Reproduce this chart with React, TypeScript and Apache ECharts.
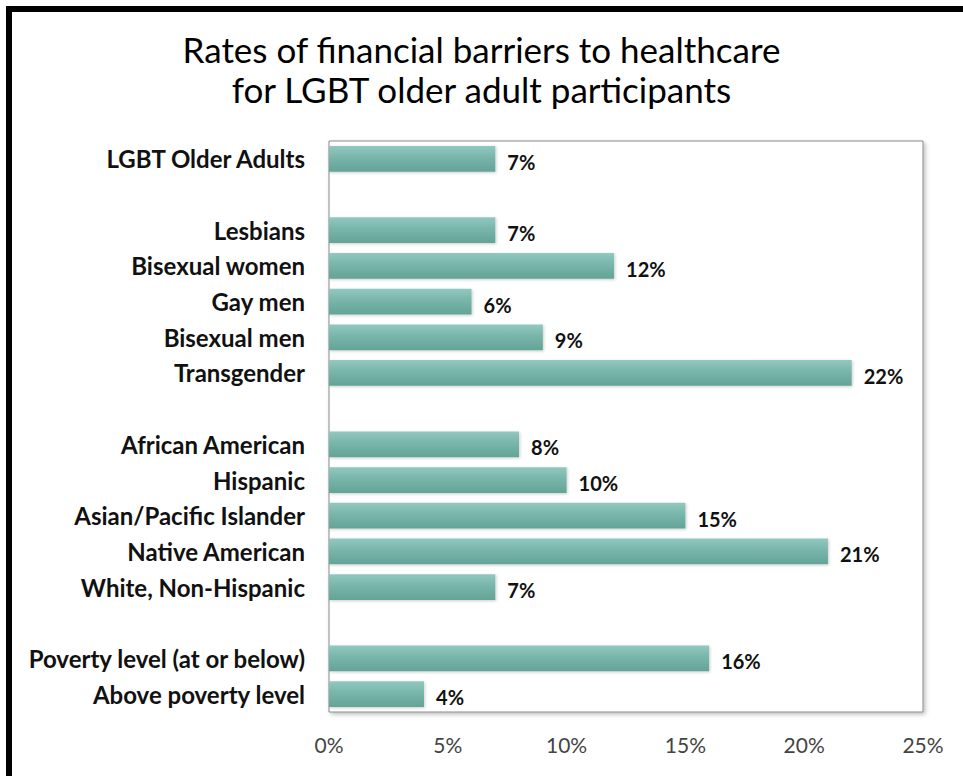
import React, { useEffect, useRef } from "react";
import * as echarts from "echarts";

const titleLines = ["Rates of financial barriers to healthcare", "for LGBT older adult participants"];

const categories = [
  "LGBT Older Adults",
  " ",
  "Lesbians",
  "Bisexual women",
  "Gay men",
  "Bisexual men",
  "Transgender",
  "  ",
  "African American",
  "Hispanic",
  "Asian/Pacific Islander",
  "Native American",
  "White, Non-Hispanic",
  "   ",
  "Poverty level (at or below)",
  "Above poverty level",
];

const values: (number | null)[] = [7, null, 7, 12, 6, 9, 22, null, 8, 10, 15, 21, 7, null, 16, 4];

const xTicks = [0, 5, 10, 15, 20, 25];

const FONT = "Lato, 'Open Sans', sans-serif";

export default function App() {
  const ref = useRef<HTMLDivElement>(null);

  useEffect(() => {
    document.body.style.margin = "0";
    if (!ref.current) return;
    const chart = echarts.init(ref.current, null, { renderer: "svg" });
    chart.setOption({
      animation: false,
      backgroundColor: "#ffffff",
      title: {
        text: titleLines.join("\n"),
        left: "center",
        top: 24,
        textStyle: {
          fontFamily: FONT,
          fontSize: 35,
          fontWeight: "normal",
          color: "#000",
          lineHeight: 40,
        },
      },
      graphic: [
        { type: "rect", shape: { x: 6, y: 6, width: 6, height: 770 }, style: { fill: "#000" } },
        { type: "rect", shape: { x: 6, y: 6, width: 957, height: 6 }, style: { fill: "#000" } },
      ],
      grid: {
        left: 329,
        right: 40,
        top: 141,
        bottom: 64,
        show: true,
        backgroundColor: "#ffffff",
        borderColor: "#8a8a8a",
        borderWidth: 1,
        shadowColor: "rgba(0,0,0,0.25)",
        shadowBlur: 4,
        shadowOffsetX: 2,
        shadowOffsetY: 2,
      },
      xAxis: {
        type: "value",
        min: xTicks[0],
        max: xTicks[xTicks.length - 1],
        interval: 5,
        axisLine: { show: false },
        axisTick: { show: false },
        splitLine: { show: false },
        axisLabel: {
          formatter: "{value}%",
          fontFamily: FONT,
          fontSize: 21,
          color: "#444",
          margin: 22,
        },
      },
      yAxis: {
        type: "category",
        inverse: true,
        data: categories,
        axisLine: { show: false },
        axisTick: { show: false },
        axisLabel: {
          fontFamily: FONT,
          fontSize: 24,
          fontWeight: "bold",
          color: "#111",
          margin: 24,
        },
      },
      series: [
        {
          type: "bar",
          data: values,
          barCategoryGap: "28%",
          itemStyle: {
            color: new echarts.graphic.LinearGradient(0, 0, 0, 1, [
              { offset: 0, color: "#92c8bf" },
              { offset: 0.45, color: "#78b5ab" },
              { offset: 1, color: "#64a398" },
            ]),
            shadowColor: "rgba(0,0,0,0.2)",
            shadowBlur: 3,
            shadowOffsetX: 1,
            shadowOffsetY: 1,
          },
          label: {
            show: true,
            position: "right",
            distance: 12,
            formatter: "{c}%",
            fontFamily: FONT,
            fontSize: 20,
            fontWeight: "bold",
            color: "#111",
            offset: [0, 3],
          },
        },
      ],
    });
    return () => chart.dispose();
  }, []);

  return <div ref={ref} style={{ width: 963, height: 776 }} />;
}
